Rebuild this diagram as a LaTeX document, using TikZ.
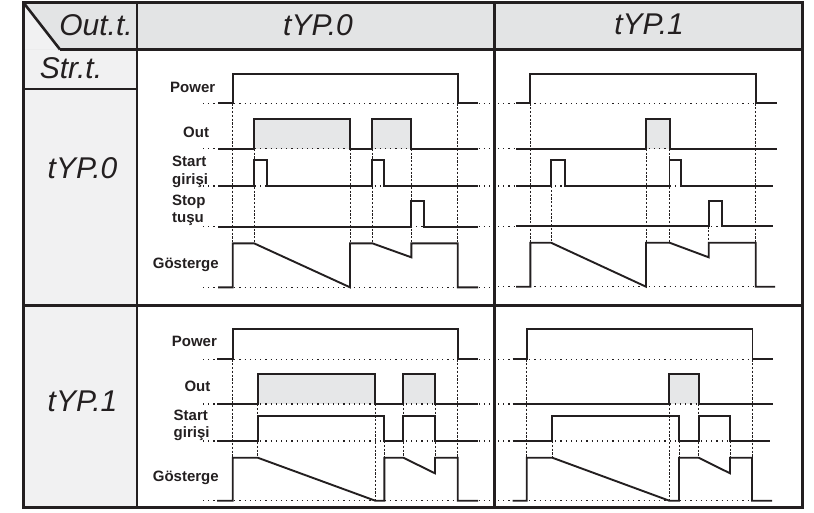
\documentclass[tikz,border=0pt]{standalone}
\usepackage{fontspec}
\newfontfamily\lblfam{Liberation Sans}
\newfontfamily\segfam{Liberation Sans}
\definecolor{ink}{HTML}{231F20}
\definecolor{hdrgray}{HTML}{E3E4E5}
\definecolor{colgray}{HTML}{F1F1F2}
\definecolor{pulsegray}{HTML}{E6E7E8}
\begin{document}
\begin{tikzpicture}[x=1pt,y=-1pt,
  sig/.style={draw=ink,line width=1.9pt},
  refline/.style={draw=ink,line width=1.2pt,dash pattern=on 1.2pt off 4pt},
  guide/.style={draw=ink,line width=0.8pt,dash pattern=on 2.2pt off 1.6pt},
  pulsefill/.style={fill=pulsegray},
  frame/.style={draw=ink,line width=3pt},
  thinframe/.style={draw=ink,line width=2.3pt},
  lbl/.style={font=\lblfam\bfseries\fontsize{15}{17.8}\selectfont,text=ink,inner sep=0pt,align=left},
  seg/.style={font=\segfam\itshape\fontsize{30}{32}\selectfont,text=ink,inner sep=0pt}]

\useasboundingbox (0,0) rectangle (814,512);

% ---------- backgrounds ----------
\fill[hdrgray] (23,2) rectangle (802.5,49.5);
\fill[colgray] (23,49.5) rectangle (137,507.5);
\fill[colgray] (23,2) -- (60,49.5) -- (23,49.5) -- cycle;

% ---------- pulse fills ----------
\fill[pulsefill] (254,119) rectangle (350,148.7);
\fill[pulsefill] (372.3,119) rectangle (411.3,148.7);
\fill[pulsefill] (646,119) rectangle (670,148.7);
\fill[pulsefill] (257.7,374.3) rectangle (375.3,404);
\fill[pulsefill] (403.3,374.3) rectangle (435,404);
\fill[pulsefill] (669.3,373.7) rectangle (698.7,404);

% ---------- dotted reference lines ----------
\foreach \yy in {103.3,148.7,186,226.7,287.3} \draw[refline] (203,\yy) -- (491,\yy);
\foreach \yy in {103.3,148.7,186,226.3,286.7} \draw[refline] (498,\yy) -- (770,\yy);
\foreach \yy in {359.3,404,441,500.7} \draw[refline] (203,\yy) -- (491,\yy);
\foreach \yy in {359.3,404,441,500.7} \draw[refline] (498,\yy) -- (770,\yy);

% ---------- dashed guides ----------
% top-left
\draw[guide] (232.7,103.3) -- (232.7,287.3);
\draw[guide] (254,148.7) -- (254,243.3);
\draw[guide] (350,148.7) -- (350,287.3);
\draw[guide] (372.3,148.7) -- (372.3,243.3);
\draw[guide] (411.3,148.7) -- (411.3,243.3);
\draw[guide] (457.7,103.3) -- (457.7,287.3);
% top-right
\draw[guide] (530.3,103.3) -- (530.3,286.7);
\draw[guide] (551,186) -- (551,242.7);
\draw[guide] (646,148.7) -- (646,286.7);
\draw[guide] (669.5,148.7) -- (669.5,242.7);
\draw[guide] (708.7,226.3) -- (708.7,242.7);
\draw[guide] (755.7,103.3) -- (755.7,286.7);
% bottom-left
\draw[guide] (232.7,359.3) -- (232.7,500.7);
\draw[guide] (257.7,404) -- (257.7,457.7);
\draw[guide] (375.3,404) -- (375.3,500.7);
\draw[guide] (384.3,441) -- (384.3,457.7);
\draw[guide] (403.3,404) -- (403.3,457.7);
\draw[guide] (435,404) -- (435,473.3);
\draw[guide] (457.7,359.3) -- (457.7,500.7);
% bottom-right
\draw[guide] (526.7,359.3) -- (526.7,500.7);
\draw[guide] (552.3,441) -- (552.3,457.7);
\draw[guide] (669.3,404) -- (669.3,500.7);
\draw[guide] (679,441) -- (679,457.7);
\draw[guide] (698.7,404) -- (698.7,457.7);
\draw[guide] (730,441) -- (730,473.3);
\draw[guide] (752.5,359.3) -- (752.5,500.7);

% ---------- signals: top-left ----------
\draw[sig] (218,103.3) -- (232.7,103.3) -- (232.7,74) -- (457.7,74) -- (457.7,103.3) -- (478,103.3);
\draw[sig] (218,148.7) -- (254,148.7) -- (254,119) -- (350,119) -- (350,148.7) -- (372.3,148.7) -- (372.3,119) -- (411.3,119) -- (411.3,148.7) -- (478,148.7);
\draw[sig] (218,186) -- (254,186) -- (254,160) -- (266.7,160) -- (266.7,186) -- (372.3,186) -- (372.3,160) -- (384,160) -- (384,186) -- (478,186);
\draw[sig] (218,226.7) -- (411.3,226.7) -- (411.3,201) -- (424.3,201) -- (424.3,226.7) -- (478,226.7);
\draw[sig] (218,287.3) -- (232.7,287.3) -- (232.7,243.3) -- (254,243.3) -- (350,287.3) -- (350,243.3) -- (372.3,243.3) -- (411.3,257.3) -- (411.3,243.3) -- (457.7,243.3) -- (457.7,287.3) -- (478,287.3);

% ---------- signals: top-right ----------
\draw[sig] (516,103.3) -- (530.3,103.3) -- (530.3,74) -- (755.7,74) -- (755.7,103.3) -- (777,103.3);
\draw[sig] (516,148.7) -- (646,148.7) -- (646,119) -- (670,119) -- (670,148.7) -- (777,148.7);
\draw[sig] (516,186) -- (551,186) -- (551,160) -- (565,160) -- (565,186) -- (669.5,186) -- (669.5,160) -- (681,160) -- (681,186) -- (773,186);
\draw[sig] (516,226.3) -- (708.7,226.3) -- (708.7,200.7) -- (722.3,200.7) -- (722.3,226.3) -- (773,226.3);
\draw[sig] (516,286.7) -- (530.3,286.7) -- (530.3,242.7) -- (551,242.7) -- (646,286.7) -- (646,242.7) -- (669.5,242.7) -- (708.7,257.3) -- (708.7,242.7) -- (755.7,242.7) -- (755.7,286.7) -- (775,286.7);

% ---------- signals: bottom-left ----------
\draw[sig] (217,359.3) -- (232.7,359.3) -- (232.7,329.3) -- (457.7,329.3) -- (457.7,359.3) -- (478,359.3);
\draw[sig] (217,404) -- (257.7,404) -- (257.7,374.3) -- (375.3,374.3) -- (375.3,404) -- (403.3,404) -- (403.3,374.3) -- (435,374.3) -- (435,404) -- (478,404);
\draw[sig] (217,441) -- (257.7,441) -- (257.7,416) -- (384.3,416) -- (384.3,441) -- (403.3,441) -- (403.3,416) -- (435,416) -- (435,441) -- (478,441);
\draw[sig] (217,500.7) -- (232.7,500.7) -- (232.7,457.7) -- (257.7,457.7) -- (375.3,500.7) -- (384.3,500.7) -- (384.3,457.7) -- (403.3,457.7) -- (435,473.3) -- (435,457.7) -- (457.7,457.7) -- (457.7,500.7) -- (478,500.7);

% ---------- signals: bottom-right ----------
\draw[sig] (512.7,359.3) -- (526.7,359.3) -- (526.7,329) -- (752.5,329) -- (752.5,359.3) -- (772.7,359.3);
\draw[sig] (512.7,404) -- (669.3,404) -- (669.3,373.7) -- (698.7,373.7) -- (698.7,404) -- (772.7,404);
\draw[sig] (512.7,441) -- (552.3,441) -- (552.3,416) -- (679,416) -- (679,441) -- (698.7,441) -- (698.7,416) -- (730,416) -- (730,441) -- (770,441);
\draw[sig] (512.7,500.7) -- (526.7,500.7) -- (526.7,457.7) -- (552.3,457.7) -- (669.3,500.7) -- (679,500.7) -- (679,457.7) -- (698.7,457.7) -- (730,473.3) -- (730,457.7) -- (752,457.7) -- (752,500.7) -- (772,500.7);

% ---------- table frame ----------
\draw[frame] (23,2) rectangle (802.5,507.5);
\draw[frame] (60,49.5) -- (802.5,49.5);
\draw[frame,line width=2.6pt] (23,2) -- (60,49.5);
\draw[thinframe] (137,2) -- (137,507.5);
\draw[frame] (494.5,2) -- (494.5,507.5);
\draw[thinframe,line width=2pt] (23,89.3) -- (137,89.3);
\draw[frame] (23,305.5) -- (802.5,305.5);

% ---------- header / row labels ----------
\node[seg] (hdrout) at (96,24.7) {Out.t.};
\node[seg] (hdrzero) at (318,24.7) {tYP.0};
\node[seg] (hdrone) at (649,24.7) {tYP.1};
\node[seg] (strt) at (71,68.4) {Str.t.};
\node[seg] (rowzero) at (82.5,168.3) {tYP.0};
\node[seg] (rowone) at (82.5,401.7) {tYP.1};

% ---------- signal labels ----------
\node[lbl,anchor=base west] (tlpower) at (170,92.7) {Power};
\node[lbl,anchor=base west] (tlout) at (183,137.3) {Out};
\node[lbl,anchor=west] (tlstart) at (172,172) {Start\\girişi};
\node[lbl,anchor=west] (tlstop) at (172,210.3) {Stop\\tuşu};
\node[lbl,anchor=base west] (tlgos) at (152.7,268.3) {Gösterge};

\node[lbl,anchor=base west] (blpower) at (171.7,346.7) {Power};
\node[lbl,anchor=base west] (blout) at (184.3,391.7) {Out};
\node[lbl,anchor=west] (blstart) at (173.5,425.3) {Start\\girişi};
\node[lbl,anchor=base west] (blgos) at (152.7,481.7) {Gösterge};

\end{tikzpicture}
\end{document}
